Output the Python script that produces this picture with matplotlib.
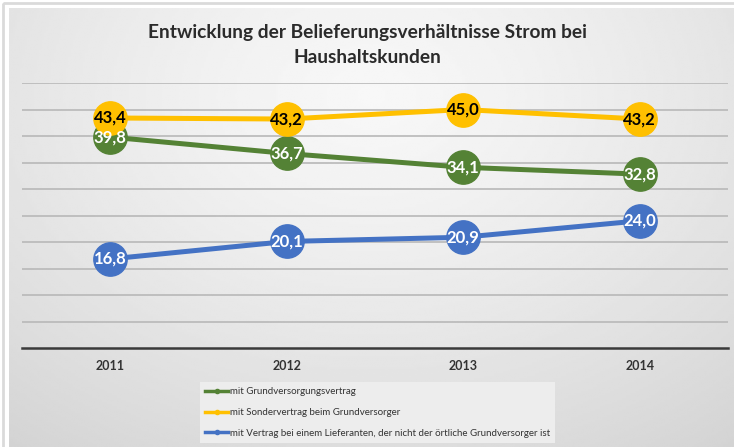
import numpy as np
import matplotlib.pyplot as plt
from matplotlib.lines import Line2D

plt.rcParams['font.family'] = ['Lato', 'DejaVu Sans']

jahre = ['2011', '2012', '2013', '2014']
grund = [39.8, 36.7, 34.1, 32.8]
sonder = [43.4, 43.2, 45.0, 43.2]
andere = [16.8, 20.1, 20.9, 24.0]

namen = ['mit Grundversorgungsvertrag',
         'mit Sondervertrag beim Grundversorger',
         'mit Vertrag bei einem Lieferanten, der nicht der örtliche Grundversorger ist']
farben = ['#548235', '#FFC000', '#4472C4']
textfarben = ['white', 'black', 'white']

W, H = 734, 447
fig = plt.figure(figsize=(W / 100, H / 100), dpi=100)
fig.patch.set_facecolor('white')

# outer frame
frame = fig.add_axes([0, 0, 1, 1])
frame.set_axis_off()
frame.set_xlim(0, W)
frame.set_ylim(H, 0)
frame.add_patch(plt.Rectangle((3, 3), W, H, fill=False, ec='#DADADA', lw=2.0))

# background with radial gradient
bg = fig.add_axes([9 / W, 0, (W - 9) / W, (H - 8) / H])
bg.set_axis_off()
yy, xx = np.mgrid[0:1:200j, 0:1:300j]
d = np.sqrt(((xx - 0.5) * 1.1) ** 2 + ((yy - 0.2) * 0.9) ** 2)
val = 0.97 - 0.16 * np.clip(d, 0, 1) ** 1.3
bg.imshow(val, cmap='gray', vmin=0, vmax=1, aspect='auto',
          extent=[0, 1, 1, 0], interpolation='bilinear')
bg.set_xlim(0, 1)
bg.set_ylim(1, 0)

ax = fig.add_axes([22 / W, (H - 348) / H, (728 - 22) / W, (348 - 83) / H])
ax.set_facecolor('none')
x = np.arange(len(jahre))
ax.set_xlim(-0.5, len(jahre) - 0.5)
ax.set_ylim(0, 50)
for s in ['top', 'right', 'left']:
    ax.spines[s].set_visible(False)
ax.spines['bottom'].set_color('#3A3A3A')
ax.spines['bottom'].set_linewidth(1.8)
ax.set_yticks(np.arange(5, 51, 5))
ax.yaxis.grid(True, color='#B8B8B8', lw=1.2)
ax.tick_params(axis='y', length=0, labelleft=False)
ax.tick_params(axis='x', length=0, pad=9)
ax.set_xticks(x)
ax.set_xticklabels(jahre, fontsize=9, fontweight='bold', color='#333333')
ax.set_axisbelow(True)

reihen = [andere, grund, sonder]
idx = [2, 0, 1]
for r, i in zip(reihen, idx):
    ax.plot(x, r, color=farben[i], lw=3.6, marker='o', ms=24,
            mfc=farben[i], mec=farben[i], mew=1, zorder=3 + idx.index(i), clip_on=False)
for r, i in zip(reihen, idx):
    for xi, v in zip(x, r):
        ax.text(xi, v, f'{v:.1f}'.replace('.', ','), ha='center', va='center',
                fontsize=12, fontweight='bold', color=textfarben[i], zorder=10)

fig.text(0.5, (H - 45) / H, 'Entwicklung der Belieferungsverhältnisse Strom bei\nHaushaltskunden',
         ha='center', va='center', fontsize=13.8, fontweight='bold', color='#2B2B2B',
         linespacing=1.55)

handles = [Line2D([0], [0], color=farben[i], lw=2.5, marker='o', ms=3) for i in range(3)]
leg = fig.legend(handles, namen, loc='upper left', bbox_to_anchor=(200 / W, (H - 382) / H),
                 fontsize=7.0, frameon=True, handlelength=2.3, handletextpad=0.2,
                 labelspacing=1.2, borderpad=0.55, borderaxespad=0)
leg.get_frame().set_facecolor('#EDEDED')
leg.get_frame().set_edgecolor('none')
leg.get_frame().set_alpha(1)
leg.get_frame().set_boxstyle('square', pad=0)
for t in leg.get_texts():
    t.set_color('#333333')

fig.savefig('out.png', dpi=100)
